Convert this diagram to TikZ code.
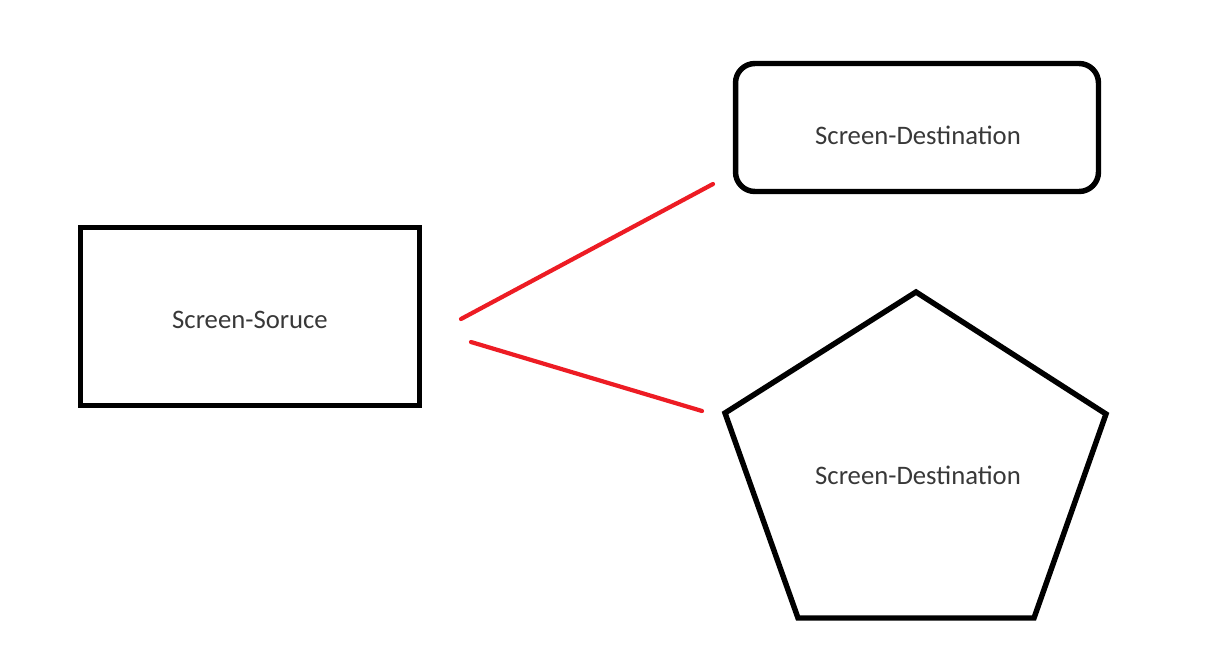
\documentclass[tikz,border=0pt]{standalone}
\usepackage{fontspec}
\setmainfont{Carlito}
\usepackage{tikz}
\usetikzlibrary{positioning}

\definecolor{paintred}{RGB}{237,28,36}
\tikzset{
  shapebox/.style={draw=black,line width=3.1pt,minimum width=6.78cm,minimum height=3.56cm,inner sep=0pt},
  roundbox/.style={shapebox,rounded corners=11pt,minimum width=7.26cm,minimum height=2.56cm},
  lbl/.style={font=\fontsize{15.2}{18}\selectfont,text=black!78,inner sep=0pt},
  link/.style={draw=paintred,line width=2.4pt,line cap=round}
}

\begin{document}
\begin{tikzpicture}[x=0.02cm,y=-0.02cm]
            \useasboundingbox (0,0) rectangle (1221,657);

            \node[shapebox] (src) at (250,316.5) {};
            \node[roundbox] (dsta) at (917,127.5) {};

            \coordinate (p1) at (916,292);
            \coordinate (p2) at (1106,414);
            \coordinate (p3) at (1034,618);
            \coordinate (p4) at (798,618);
            \coordinate (p5) at (725,413);
            \draw[line width=3.1pt,line join=miter] (p1) -- (p2) -- (p3) -- (p4) -- (p5) -- cycle;

            \node[lbl] (srctxt) at (250,320) {Screen-Soruce};
            \node[lbl] (dstatxt) at (918,135) {Screen-Destination};
            \node[lbl] (dstbtxt) at (918,475) {Screen-Destination};

            \coordinate (a1) at (461,319);
            \coordinate (a2) at (713,184);
            \coordinate (b1) at (471,342);
            \coordinate (b2) at (702,411);
            \draw[link] (a1) -- (a2);
            \draw[link] (b1) -- (b2);
        \end{tikzpicture}
\end{document}
